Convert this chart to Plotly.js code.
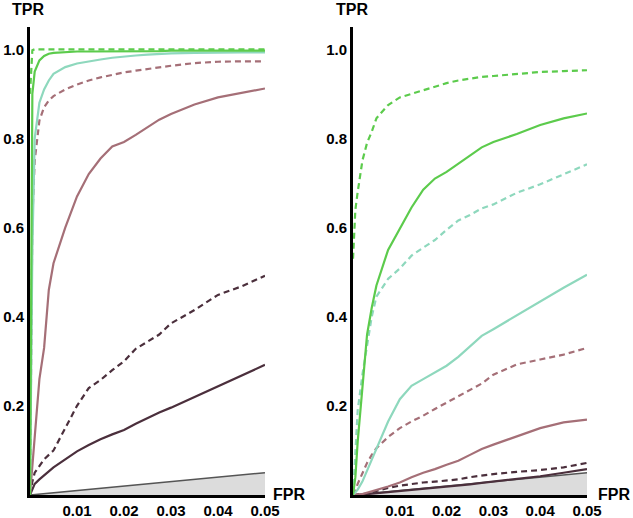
<!DOCTYPE html>
<html>
<head>
<meta charset="utf-8">
<script src="https://cdn.plot.ly/plotly-3.0.1.min.js"></script>
<style>
    body { margin: 0; background: #ffffff; }
    #chart { width: 633px; height: 518px; }
</style>
</head>
<body>
<div id="chart"></div>
<script>
// Shared FPR grid the curves were read at
const fprGrid = [0, 0.0005, 0.001, 0.002, 0.003, 0.004, 0.005, 0.0075, 0.01, 0.0125, 0.015,
    0.0175, 0.02, 0.0225, 0.025, 0.0275, 0.03, 0.035, 0.04, 0.045, 0.05];

// Left panel TPR values
const leftGreenDash = [0.9, 0.998, 1, 1, 1, 1, 1, 1, 1, 1, 1, 1, 1, 1, 1, 1, 1, 1, 1, 1, 1];
const leftGreenSolid = [0, 0.9, 0.95, 0.975, 0.985, 0.99, 0.992, 0.994, 0.995, 0.995, 0.995,
    0.996, 0.996, 0.996, 0.996, 0.996, 0.997, 0.997, 0.997, 0.997, 0.997];
const leftTealSolid = [0, 0.55, 0.8, 0.88, 0.91, 0.93, 0.945, 0.96, 0.968, 0.973, 0.977,
    0.981, 0.984, 0.986, 0.988, 0.99, 0.991, 0.992, 0.993, 0.993, 0.993];
const leftMauveDash = [0, 0.62, 0.75, 0.84, 0.87, 0.885, 0.895, 0.91, 0.921, 0.93, 0.937,
    0.943, 0.948, 0.952, 0.956, 0.96, 0.963, 0.969, 0.972, 0.973, 0.973];
const leftMauveSolid = [0, 0.06, 0.13, 0.26, 0.33, 0.46, 0.52, 0.6, 0.67, 0.72, 0.755,
    0.782, 0.792, 0.808, 0.826, 0.842, 0.855, 0.876, 0.892, 0.902, 0.912];
const leftDarkDash = [0, 0.03, 0.05, 0.065, 0.08, 0.09, 0.1, 0.15, 0.2, 0.24, 0.258,
    0.28, 0.3, 0.328, 0.345, 0.36, 0.385, 0.415, 0.449, 0.468, 0.492];
const leftDarkSolid = [0, 0.015, 0.025, 0.035, 0.045, 0.053, 0.062, 0.08, 0.098, 0.112, 0.125,
    0.136, 0.146, 0.16, 0.173, 0.185, 0.196, 0.22, 0.243, 0.268, 0.292];

// Right panel TPR values
const rightGreenDash = [0.53, 0.64, 0.68, 0.75, 0.79, 0.815, 0.845, 0.875, 0.892, 0.9, 0.908,
    0.915, 0.924, 0.93, 0.934, 0.938, 0.94, 0.945, 0.949, 0.951, 0.953];
const rightGreenSolid = [0, 0.04, 0.12, 0.24, 0.36, 0.42, 0.47, 0.55, 0.596, 0.645, 0.685,
    0.71, 0.725, 0.743, 0.76, 0.78, 0.792, 0.81, 0.83, 0.845, 0.856];
const rightTealDash = [0, 0.1, 0.19, 0.27, 0.333, 0.4, 0.445, 0.485, 0.508, 0.537, 0.555,
    0.572, 0.595, 0.616, 0.628, 0.643, 0.652, 0.678, 0.697, 0.72, 0.742];
const rightTealSolid = [0, 0.005, 0.012, 0.03, 0.055, 0.08, 0.105, 0.165, 0.215, 0.245, 0.26,
    0.275, 0.29, 0.31, 0.333, 0.357, 0.372, 0.403, 0.433, 0.465, 0.494];
const rightMauveDash = [0, 0.01, 0.025, 0.05, 0.072, 0.09, 0.105, 0.13, 0.15, 0.165, 0.178,
    0.193, 0.207, 0.222, 0.236, 0.25, 0.27, 0.293, 0.304, 0.315, 0.33];
const rightMauveSolid = [0, 0, 0.001, 0.002, 0.005, 0.008, 0.011, 0.019, 0.028, 0.04, 0.05,
    0.058, 0.068, 0.077, 0.09, 0.103, 0.113, 0.132, 0.15, 0.163, 0.169];
const rightDarkDash = [0, 0, 0.001, 0.002, 0.003, 0.006, 0.009, 0.016, 0.021, 0.025, 0.028,
    0.03, 0.032, 0.035, 0.04, 0.044, 0.047, 0.052, 0.056, 0.062, 0.072];
const rightDarkSolid = [0, 0, 0.0005, 0.001, 0.002, 0.003, 0.004, 0.006, 0.008, 0.011, 0.014,
    0.016, 0.018, 0.021, 0.024, 0.027, 0.03, 0.036, 0.042, 0.05, 0.058];

// Random classifier diagonal
const chanceFpr = [0, 0.05];
const chanceTpr = [0, 0.05];

const xTicks = [0.01, 0.02, 0.03, 0.04, 0.05];
const xTickText = ['0.01', '0.02', '0.03', '0.04', '0.05'];
const yTicks = [0.2, 0.4, 0.6, 0.8, 1.0];
const yTickText = ['0.2', '0.4', '0.6', '0.8', '1.0'];

const GREEN = '#5ccb4c';
const TEAL = '#8ed8bd';
const MAUVE = '#a56f77';
const DARK = '#4b2f3c';

function curve(y, color, dashed, xa, ya) {
    return {
        x: fprGrid,
        y: y,
        xaxis: xa,
        yaxis: ya,
        type: 'scatter',
        mode: 'lines',
        line: { color: color, width: 2.2, dash: dashed ? '6px,4px' : 'solid' },
        hoverinfo: 'skip'
    };
}

function chance(xa, ya) {
    return {
        x: chanceFpr,
        y: chanceTpr,
        xaxis: xa,
        yaxis: ya,
        type: 'scatter',
        mode: 'lines',
        fill: 'tozeroy',
        fillcolor: '#dcdcdc',
        line: { color: '#555555', width: 1.6 },
        hoverinfo: 'skip'
    };
}

const traces = [
    chance('x', 'y'),
    curve(leftDarkSolid, DARK, false, 'x', 'y'),
    curve(leftDarkDash, DARK, true, 'x', 'y'),
    curve(leftMauveSolid, MAUVE, false, 'x', 'y'),
    curve(leftMauveDash, MAUVE, true, 'x', 'y'),
    curve(leftTealSolid, TEAL, false, 'x', 'y'),
    curve(leftGreenSolid, GREEN, false, 'x', 'y'),
    curve(leftGreenDash, GREEN, true, 'x', 'y'),
    chance('x2', 'y2'),
    curve(rightDarkSolid, DARK, false, 'x2', 'y2'),
    curve(rightDarkDash, DARK, true, 'x2', 'y2'),
    curve(rightMauveSolid, MAUVE, false, 'x2', 'y2'),
    curve(rightMauveDash, MAUVE, true, 'x2', 'y2'),
    curve(rightTealSolid, TEAL, false, 'x2', 'y2'),
    curve(rightTealDash, TEAL, true, 'x2', 'y2'),
    curve(rightGreenSolid, GREEN, false, 'x2', 'y2'),
    curve(rightGreenDash, GREEN, true, 'x2', 'y2')
];

const tickFont = { family: 'Liberation Sans, Arial, sans-serif', size: 15, color: '#000', weight: 'bold' };
const titleFont = { family: 'Liberation Sans, Arial, sans-serif', size: 16, color: '#000', weight: 'bold' };

function xAxis(domain, anchor) {
    return {
        domain: domain,
        anchor: anchor,
        range: [0, 0.05],
        showline: true,
        linewidth: 3,
        linecolor: '#000',
        showgrid: false,
        zeroline: false,
        ticks: '',
        tickvals: xTicks,
        ticktext: xTickText,
        tickfont: tickFont,
        fixedrange: true
    };
}

function yAxis(anchor) {
    return {
        domain: [0.0444, 0.9479],
        anchor: anchor,
        range: [0, 1.05],
        showline: true,
        linewidth: 3,
        linecolor: '#000',
        showgrid: false,
        zeroline: false,
        ticks: '',
        tickvals: yTicks,
        ticktext: yTickText,
        tickfont: tickFont,
        fixedrange: true
    };
}

// axis names sit outside the plot range, so place them on the paper
function label(text, x, y) {
    return {
        text: text,
        x: x,
        y: y,
        xref: 'paper',
        yref: 'paper',
        xanchor: 'center',
        yanchor: 'middle',
        showarrow: false,
        font: titleFont
    };
}

const layout = {
    width: 633,
    height: 518,
    margin: { l: 0, r: 0, t: 0, b: 0 },
    paper_bgcolor: '#ffffff',
    plot_bgcolor: '#ffffff',
    showlegend: false,
    xaxis: xAxis([0.0474, 0.4186], 'y'),
    yaxis: yAxis('x'),
    xaxis2: xAxis([0.5577, 0.9273], 'y2'),
    yaxis2: yAxis('x2'),
    annotations: [
        label('TPR', 0.0442, 0.981),
        label('FPR', 0.4566, 0.046),
        label('TPR', 0.556, 0.981),
        label('FPR', 0.970, 0.046)
    ]
};

Plotly.newPlot('chart', traces, layout, { displayModeBar: false, staticPlot: true });
</script>
</body>
</html>
